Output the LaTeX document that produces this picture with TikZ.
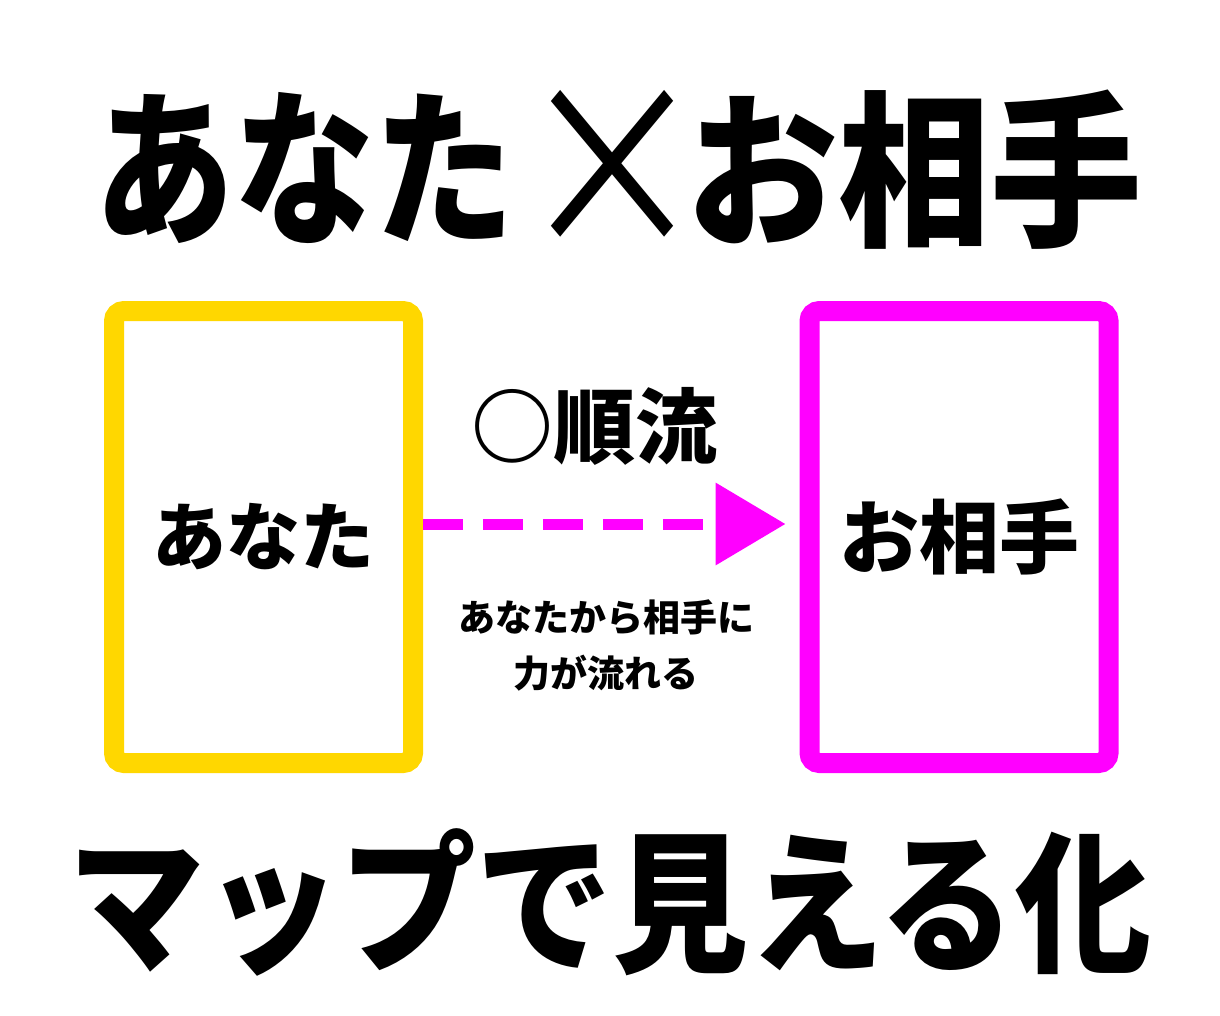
\documentclass[tikz,border=0pt]{standalone}
\usepackage{fontspec}
\newfontfamily\jp{Noto Sans CJK JP}
\usetikzlibrary{arrows.meta}
\definecolor{boxyellow}{HTML}{FFD700}
\definecolor{boxmagenta}{HTML}{FF00FF}
\tikzset{
  frame/.style={draw=#1, line width=20pt, rounded corners=10pt, minimum width=299pt, minimum height=452pt, fill=white, inner sep=0pt},
  big/.style={inner sep=0pt, font=\jp\bfseries\fontsize{140pt}{140pt}\selectfont},
  mid/.style={inner sep=0pt, font=\jp\bfseries\fontsize{74pt}{74pt}\selectfont},
  small/.style={inner sep=0pt, align=center, font=\jp\bfseries\fontsize{37pt}{56pt}\selectfont},
  flow/.style={draw=boxmagenta, line width=11pt, dash pattern=on 40pt off 20pt, -{Triangle[length=70pt,width=80pt]}}
}
\begin{document}
\begin{tikzpicture}[x=1pt,y=-1pt]
\useasboundingbox[fill=white] (0,0) rectangle (1220,1016);
\node[big] (t1) at (304,168) {\scalebox{1}[1.2]{あなた}};
\node[inner sep=0pt, font=\jp\fontsize{190pt}{190pt}\selectfont] (tx) at (612,170) {\scalebox{1}[1.2]{×}};
\node[big] (t2) at (914,170) {\fontsize{152pt}{152pt}\selectfont\scalebox{1}[1.1]{お相手}};
\node[frame=boxyellow, mid] (ya) at (263.5,537) {あなた};
\node[frame=boxmagenta, mid] (mb) at (959,537) {\fontsize{80pt}{80pt}\selectfont お相手};
\node[inner sep=0pt, font=\jp\bfseries\fontsize{82pt}{82pt}\selectfont] (jr) at (594,426) {○順流};
\draw[flow, shorten >=14pt] (ya.east |- 0,524) -- (mb.west |- 0,524);
\node[small] (cap) at (606,645) {あなたから相手に\\力が流れる};
\node[big] (b1) at (610,902) {\fontsize{136pt}{136pt}\selectfont\scalebox{1}[1.12]{マップで見える化}};
\end{tikzpicture}
\end{document}
